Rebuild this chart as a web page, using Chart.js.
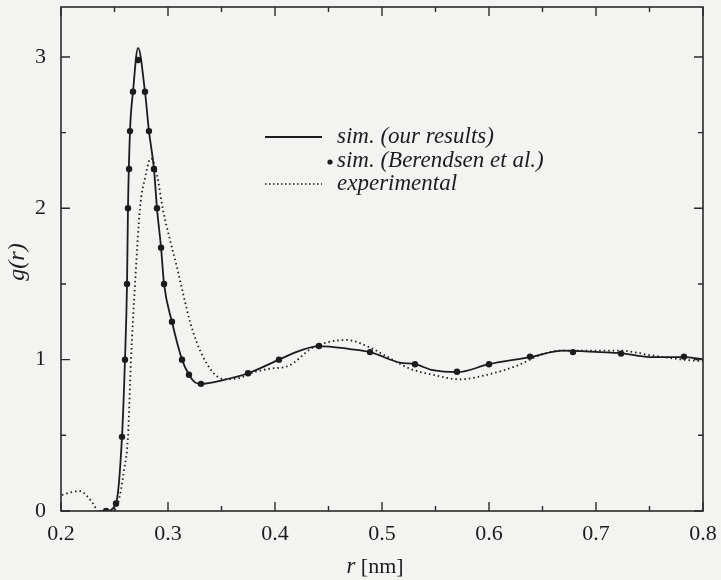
<!DOCTYPE html>
<html>
<head>
<meta charset="utf-8">
<script src="https://cdn.jsdelivr.net/npm/chart.js@4.4.1/dist/chart.umd.min.js"></script>
<style>
  body { margin: 0; background: #f3f3f1; }
  #wrap { width: 721px; height: 580px; }
</style>
</head>
<body>
<div id="wrap"><canvas id="gr" width="721" height="580"></canvas></div>
<script>
// sim. (our results) - solid line
var simR = [0.236, 0.2421, 0.2514, 0.2570, 0.2598, 0.2617, 0.2626, 0.2645, 0.2673, 0.2720,
            0.2785, 0.2822, 0.2869, 0.2897, 0.2935, 0.2963, 0.3037, 0.3131, 0.3196, 0.3252,
            0.3308, 0.3514, 0.3748, 0.4037, 0.4234, 0.4411, 0.4701, 0.4888, 0.5168, 0.5308,
            0.5477, 0.5701, 0.6000, 0.6383, 0.6692, 0.7037, 0.7234, 0.7505, 0.7822, 0.8000];
var simG = [0.0, 0.0, 0.05, 0.49, 1.0, 1.5, 2.0, 2.51, 2.77, 3.06,
            2.77, 2.51, 2.26, 2.0, 1.74, 1.5, 1.25, 1.0, 0.9, 0.85,
            0.84, 0.865, 0.91, 1.0, 1.06, 1.09, 1.07, 1.05, 0.98, 0.97,
            0.93, 0.917, 0.97, 1.017, 1.06, 1.05, 1.043, 1.017, 1.017, 1.003];

// sim. (Berendsen et al.) - dots
var berR = [0.2421, 0.2514, 0.2570, 0.2598, 0.2617, 0.2626, 0.2636, 0.2645, 0.2673, 0.2720,
            0.2785, 0.2822, 0.2869, 0.2897, 0.2935, 0.2963, 0.3037, 0.3131, 0.3196, 0.3308,
            0.3748, 0.4037, 0.4411, 0.4888, 0.5308, 0.5701, 0.6000, 0.6383, 0.6785, 0.7234, 0.7822];
var berG = [0.0, 0.05, 0.49, 1.0, 1.5, 2.0, 2.26, 2.51, 2.77, 2.98,
            2.77, 2.51, 2.26, 2.0, 1.74, 1.5, 1.25, 1.0, 0.9, 0.84,
            0.91, 1.0, 1.09, 1.05, 0.97, 0.92, 0.97, 1.02, 1.05, 1.04, 1.02];

// experimental - dotted line
var expR = [0.2009, 0.2103, 0.2178, 0.2252, 0.2308, 0.2346, 0.2480, 0.2533, 0.2589, 0.2626,
            0.2654, 0.2692, 0.2738, 0.2785, 0.2841, 0.2897, 0.2953, 0.3019, 0.3084, 0.3140,
            0.3206, 0.3271, 0.3327, 0.3393, 0.3458, 0.3533, 0.3673, 0.3813, 0.3953, 0.4130,
            0.4355, 0.4673, 0.4888, 0.5047, 0.5262, 0.5477, 0.5729, 0.5981, 0.6262, 0.6477,
            0.6664, 0.7037, 0.7224, 0.7505, 0.7813, 0.8000];
var expG = [0.106, 0.125, 0.132, 0.092, 0.04, 0.0, 0.0, 0.05, 0.27, 0.49,
            1.0, 1.5, 2.0, 2.2, 2.33, 2.22, 1.99, 1.79, 1.61, 1.44,
            1.25, 1.11, 1.02, 0.94, 0.89, 0.87, 0.88, 0.92, 0.94, 0.96,
            1.08, 1.13, 1.08, 1.02, 0.94, 0.90, 0.87, 0.90, 0.96, 1.03,
            1.06, 1.06, 1.06, 1.03, 1.00, 0.99];

var xTicks = [0.2, 0.3, 0.4, 0.5, 0.6, 0.7, 0.8];
var yTicks = [0, 1, 2, 3];
var legendLabels = ['sim. (our results)', 'sim. (Berendsen et al.)', 'experimental'];

function pts(xs, ys) {
  return xs.map(function(x, i) { return { x: x, y: ys[i] }; });
}

var ink = '#1c1c1c';
var serif = '"Liberation Serif", "DejaVu Serif", serif';

// frame with inward ticks on all four sides, axis titles and legend
var framePlugin = {
  id: 'frame',
  afterDraw: function(chart) {
    var ctx = chart.ctx, a = chart.chartArea;
    var xs = chart.scales.x, ys = chart.scales.y;
    ctx.save();
    ctx.strokeStyle = '#2a2a2a';
    ctx.lineWidth = 1.6;
    ctx.strokeRect(a.left, a.top, a.right - a.left, a.bottom - a.top);

    ctx.lineWidth = 1.4;
    ctx.beginPath();
    for (var v = 0.2; v <= 0.8001; v += 0.05) {
      var px = xs.getPixelForValue(v);
      var major = Math.abs(v * 10 - Math.round(v * 10)) < 0.01;
      var len = major ? 9 : 5;
      ctx.moveTo(px, a.bottom); ctx.lineTo(px, a.bottom - len);
      ctx.moveTo(px, a.top); ctx.lineTo(px, a.top + len);
    }
    for (var g = 0; g <= 3.001; g += 0.5) {
      var py = ys.getPixelForValue(g);
      var len2 = (g % 1 === 0) ? 9 : 5;
      ctx.moveTo(a.left, py); ctx.lineTo(a.left + len2, py);
      ctx.moveTo(a.right, py); ctx.lineTo(a.right - len2, py);
    }
    ctx.stroke();

    // x title: r [nm]
    ctx.fillStyle = ink;
    ctx.textBaseline = 'middle';
    ctx.font = 'italic 23px ' + serif;
    var wr = ctx.measureText('r').width;
    ctx.font = '22px ' + serif;
    var wn = ctx.measureText(' [nm]').width;
    var sx = 375 - (wr + wn) / 2;
    ctx.font = 'italic 23px ' + serif;
    ctx.textAlign = 'left';
    ctx.fillText('r', sx, 567);
    ctx.font = '22px ' + serif;
    ctx.fillText(' [nm]', sx + wr, 567);

    // y title: g(r)
    ctx.save();
    ctx.translate(18, 262);
    ctx.rotate(-Math.PI / 2);
    ctx.textAlign = 'center';
    ctx.font = 'italic 24px ' + serif;
    ctx.fillText('g(r)', 0, 0);
    ctx.restore();

    // legend
    ctx.font = 'italic 23px ' + serif;
    ctx.textAlign = 'left';
    ctx.fillText(legendLabels[0], 337, 137);
    ctx.fillText(legendLabels[1], 337, 161);
    ctx.fillText(legendLabels[2], 337, 184);
    ctx.strokeStyle = ink;
    ctx.lineWidth = 1.8;
    ctx.beginPath(); ctx.moveTo(265, 137); ctx.lineTo(322, 137); ctx.stroke();
    ctx.beginPath(); ctx.arc(330, 162, 2.6, 0, Math.PI * 2); ctx.fill();
    ctx.lineWidth = 1.6;
    ctx.setLineDash([1.5, 2.5]);
    ctx.beginPath(); ctx.moveTo(265, 184); ctx.lineTo(322, 184); ctx.stroke();
    ctx.restore();
  }
};

function noPad(s) {
  s.paddingTop = 0; s.paddingBottom = 0; s.paddingLeft = 0; s.paddingRight = 0;
}

var ctx = document.getElementById('gr');
var grChart = new Chart(ctx, {
  type: 'line',
  data: {
    datasets: [
      {
        label: legendLabels[2],
        data: pts(expR, expG),
        borderColor: ink,
        borderWidth: 1.8,
        borderDash: [1.5, 3],
        pointRadius: 0,
        cubicInterpolationMode: 'monotone',
        fill: false
      },
      {
        label: legendLabels[0],
        data: pts(simR, simG),
        borderColor: ink,
        borderWidth: 1.8,
        pointRadius: 0,
        cubicInterpolationMode: 'monotone',
        fill: false
      },
      {
        label: legendLabels[1],
        data: pts(berR, berG),
        showLine: false,
        pointRadius: 3.2,
        pointBackgroundColor: ink,
        pointBorderColor: ink,
        pointBorderWidth: 0
      }
    ]
  },
  options: {
    responsive: false,
    animation: false,
    layout: { padding: { top: 7, right: 18, left: 0, bottom: 0 } },
    plugins: { legend: { display: false }, tooltip: { enabled: false } },
    scales: {
      x: {
        type: 'linear',
        min: 0.2, max: 0.8,
        grid: { display: false, drawTicks: false },
        border: { display: false },
        afterFit: function(s) { s.height = 69; noPad(s); },
        afterBuildTicks: function(s) { s.ticks = xTicks.map(function(v) { return { value: v }; }); },
        ticks: {
          padding: 10,
          color: ink,
          font: { family: serif, size: 22 },
          callback: function(v) { return Number(v).toFixed(1); }
        }
      },
      y: {
        min: 0, max: 3.33,
        grid: { display: false, drawTicks: false },
        border: { display: false },
        afterFit: function(s) { s.width = 61; noPad(s); },
        afterBuildTicks: function(s) { s.ticks = yTicks.map(function(v) { return { value: v }; }); },
        ticks: {
          padding: 15,
          color: ink,
          font: { family: serif, size: 22 }
        }
      }
    }
  },
  plugins: [framePlugin]
});
</script>
</body>
</html>
